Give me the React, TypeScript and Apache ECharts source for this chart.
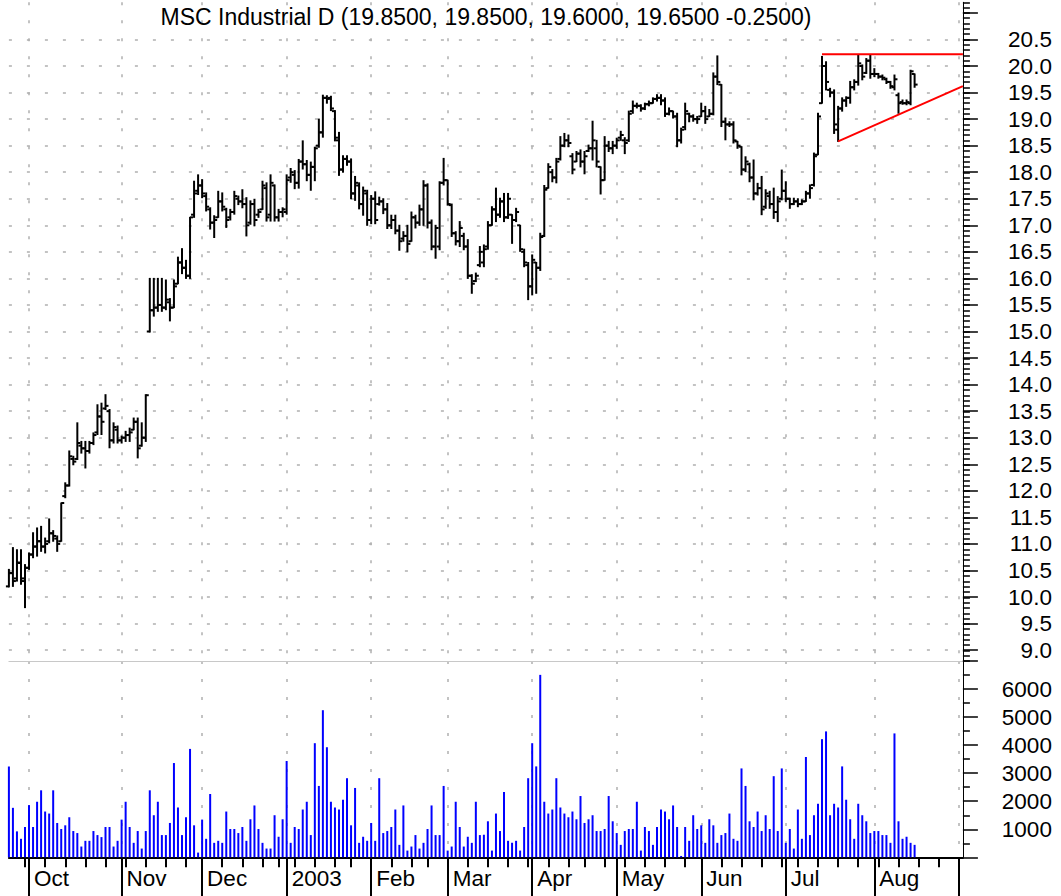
import React, { useEffect, useRef } from "react";
import * as echarts from "echarts";

const TITLE = "MSC Industrial D (19.8500, 19.8500, 19.6000, 19.6500 -0.2500)";
const FONT = "'Liberation Sans', Arial, Helvetica, sans-serif";

// trading calendar (axis runs past the last bar)
const FIRST_DAY = "2002-09-24";
const LAST_AXIS_DAY = "2003-09-03";
const HOLIDAYS = ["2002-11-28", "2002-12-25", "2003-01-01", "2003-01-20", "2003-02-17", "2003-04-18", "2003-05-26", "2003-07-04", "2003-09-01"];
const MONTH_NAMES = ["Jan", "Feb", "Mar", "Apr", "May", "Jun", "Jul", "Aug", "Sep", "Oct", "Nov", "Dec"];

const OPEN = [
  10.20, 10.45, 10.35, 10.64, 10.35, 10.55, 10.80, 10.95, 11.05, 10.95, 11.05, 11.20, 11.10, 11.05, 11.90, 12.10, 12.60, 12.60, 12.85, 12.80,
  12.75, 12.90, 13.10, 13.40, 13.55, 13.50, 12.95, 13.15, 12.95, 13.00, 13.05, 13.15, 13.30, 12.85, 13.00, 15.00, 15.40, 15.45, 15.50, 15.45,
  15.55, 15.45, 15.90, 16.30, 16.20, 16.05, 17.20, 17.65, 17.75, 17.55, 17.30, 17.05, 17.15, 17.45, 17.30, 17.15, 17.25, 17.50, 17.45, 17.40,
  17.05, 17.40, 17.20, 17.30, 17.70, 17.20, 17.75, 17.15, 17.25, 17.25, 17.90, 17.95, 17.80, 18.20, 18.15, 17.95, 18.10, 18.50, 18.75, 19.40,
  19.40, 19.15, 18.60, 18.05, 18.25, 18.20, 17.60, 17.75, 17.40, 17.60, 17.10, 17.50, 17.40, 17.45, 17.30, 17.00, 17.10, 16.90, 16.75, 16.80,
  16.70, 17.15, 17.05, 17.30, 17.75, 17.05, 16.60, 16.60, 17.80, 17.85, 17.38, 16.85, 16.70, 16.80, 16.60, 16.05, 15.95, 16.25, 16.30, 16.60,
  17.00, 17.30, 17.20, 17.45, 17.15, 17.20, 17.10, 17.00, 16.50, 16.25, 15.85, 16.30, 16.20, 16.80, 17.70, 18.00, 17.90, 18.25, 18.50, 18.60,
  18.30, 18.20, 18.35, 18.20, 18.40, 18.45, 18.45, 18.10, 17.85, 18.50, 18.45, 18.50, 18.65, 18.60, 18.60, 19.15, 19.25, 19.25, 19.20, 19.28,
  19.30, 19.38, 19.40, 19.35, 19.10, 19.15, 19.05, 18.60, 18.85, 19.10, 19.05, 19.00, 19.05, 19.15, 19.05, 19.10, 19.80, 19.65, 18.95, 18.90,
  18.90, 18.58, 18.48, 18.05, 18.15, 17.90, 17.60, 17.70, 17.35, 17.55, 17.40, 17.25, 17.50, 17.65, 17.50, 17.40, 17.45, 17.40, 17.45, 17.60,
  17.76, 18.33, 19.30, 20.00, 19.55, 19.50, 18.80, 19.20, 19.35, 19.40, 19.60, 19.70, 20.00, 19.87, 20.10, 19.85, 19.85, 19.80, 19.75, 19.70,
  19.60, 19.45, 19.32, 19.30, 19.30, 19.85,
];
const HIGH = [
  10.52, 10.93, 10.89, 10.89, 10.61, 10.83, 11.21, 11.30, 11.33, 11.11, 11.47, 11.25, 11.15, 11.77, 12.15, 12.75, 12.65, 13.28, 12.93, 12.93,
  12.93, 13.09, 13.62, 13.65, 13.81, 13.53, 13.28, 13.22, 13.03, 13.12, 13.18, 13.37, 13.37, 13.28, 13.81, 16.00, 16.00, 16.00, 16.00, 15.97,
  15.62, 15.97, 16.40, 16.56, 16.34, 17.15, 17.83, 17.95, 17.86, 17.61, 17.33, 17.18, 17.64, 17.61, 17.32, 17.30, 17.64, 17.55, 17.67, 17.52,
  17.46, 17.49, 17.30, 17.83, 17.80, 17.95, 17.76, 17.30, 17.33, 17.95, 18.07, 18.03, 18.24, 18.59, 18.22, 18.19, 18.47, 19.00, 19.45, 19.44,
  19.43, 19.16, 18.75, 18.31, 18.31, 18.25, 17.92, 17.80, 17.72, 17.66, 17.56, 17.63, 17.53, 17.50, 17.41, 17.19, 17.19, 17.00, 16.88, 17.00,
  17.25, 17.19, 17.38, 17.84, 17.78, 17.10, 17.00, 17.82, 18.26, 17.85, 17.40, 16.88, 17.07, 16.85, 16.73, 16.07, 16.10, 16.60, 16.63, 17.07,
  17.35, 17.70, 17.51, 17.60, 17.60, 17.20, 17.32, 17.00, 16.55, 16.30, 16.44, 16.30, 16.85, 17.75, 18.16, 18.05, 18.26, 18.67, 18.73, 18.70,
  18.35, 18.39, 18.42, 18.39, 18.51, 18.96, 18.60, 18.10, 18.67, 18.58, 18.58, 18.64, 18.77, 18.65, 19.15, 19.34, 19.30, 19.27, 19.30, 19.34,
  19.40, 19.46, 19.46, 19.40, 19.21, 19.15, 19.11, 18.83, 19.30, 19.11, 19.08, 19.05, 19.30, 19.24, 19.18, 19.87, 20.19, 19.65, 19.02, 18.95,
  18.95, 18.58, 18.48, 18.29, 18.17, 18.23, 17.79, 17.92, 17.67, 17.64, 17.70, 17.54, 18.04, 17.82, 17.51, 17.51, 17.50, 17.48, 17.64, 17.76,
  18.36, 19.11, 20.18, 20.08, 19.58, 19.55, 19.24, 19.40, 19.42, 19.71, 19.74, 20.21, 20.02, 20.14, 20.21, 19.95, 19.86, 19.83, 19.77, 19.71,
  19.83, 19.49, 19.36, 19.36, 19.92, 19.85,
];
const LOW = [
  10.19, 10.20, 10.30, 10.24, 9.80, 10.52, 10.74, 10.77, 10.86, 10.83, 11.02, 11.05, 10.86, 11.05, 11.87, 12.09, 12.49, 12.59, 12.71, 12.43,
  12.71, 12.87, 13.06, 13.06, 13.53, 12.81, 12.90, 12.90, 12.90, 12.93, 12.93, 13.15, 12.62, 12.84, 12.93, 14.99, 15.29, 15.38, 15.38, 15.41,
  15.20, 15.45, 15.90, 16.09, 16.00, 16.00, 17.15, 17.58, 17.52, 17.27, 16.93, 16.77, 17.15, 17.27, 16.96, 17.10, 17.21, 17.39, 17.33, 16.80,
  17.02, 16.99, 17.15, 17.30, 17.08, 17.08, 17.08, 17.08, 17.16, 17.21, 17.81, 17.69, 17.70, 18.06, 17.84, 17.66, 17.84, 18.47, 18.66, 19.30,
  19.16, 18.59, 17.94, 18.00, 18.13, 17.50, 17.47, 17.31, 17.19, 17.00, 17.03, 17.03, 17.38, 17.22, 16.94, 16.94, 16.84, 16.53, 16.70, 16.50,
  16.70, 16.95, 17.00, 17.00, 16.95, 16.54, 16.38, 16.54, 17.76, 17.38, 16.79, 16.63, 16.60, 16.54, 16.00, 15.72, 15.94, 16.22, 16.22, 16.55,
  17.00, 17.07, 17.15, 17.07, 17.13, 16.66, 17.07, 16.51, 16.22, 15.60, 15.69, 15.72, 16.15, 16.79, 17.70, 17.82, 17.80, 18.23, 18.48, 18.48,
  17.97, 18.20, 18.10, 17.97, 18.39, 18.23, 18.10, 17.59, 17.85, 18.39, 18.35, 18.45, 18.60, 18.35, 18.58, 19.11, 19.21, 19.15, 19.18, 19.25,
  19.30, 19.34, 19.27, 19.05, 19.08, 19.02, 18.48, 18.55, 18.80, 18.95, 18.96, 18.92, 19.05, 18.92, 19.05, 19.08, 19.65, 18.86, 18.61, 18.86,
  18.55, 18.45, 17.95, 18.01, 17.82, 17.48, 17.57, 17.20, 17.32, 17.32, 17.13, 17.07, 17.48, 17.45, 17.32, 17.39, 17.35, 17.39, 17.45, 17.51,
  17.74, 18.33, 19.30, 19.55, 19.42, 18.73, 18.58, 19.15, 19.24, 19.30, 19.55, 19.64, 19.74, 19.86, 19.77, 19.80, 19.77, 19.74, 19.67, 19.58,
  19.55, 19.11, 19.28, 19.27, 19.27, 19.60,
];
const CLOSE = [
  10.45, 10.30, 10.65, 10.30, 10.55, 10.80, 10.95, 11.05, 10.95, 11.00, 11.20, 11.15, 11.00, 11.77, 12.10, 12.65, 12.55, 12.90, 12.80, 12.75,
  12.90, 13.05, 13.40, 13.30, 13.60, 12.95, 13.20, 12.95, 13.00, 13.05, 13.10, 13.30, 12.80, 13.00, 13.80, 15.40, 15.45, 15.50, 15.45, 15.60,
  15.45, 15.85, 16.30, 16.20, 16.05, 17.15, 17.60, 17.75, 17.60, 17.35, 17.05, 17.10, 17.45, 17.35, 17.10, 17.25, 17.55, 17.45, 17.40, 17.00,
  17.40, 17.10, 17.25, 17.75, 17.15, 17.80, 17.15, 17.25, 17.30, 17.85, 18.00, 17.80, 18.20, 18.15, 17.95, 18.10, 18.45, 18.75, 19.40, 19.38,
  19.20, 18.65, 18.05, 18.25, 18.20, 17.60, 17.80, 17.40, 17.65, 17.10, 17.50, 17.10, 17.45, 17.30, 17.00, 17.10, 16.90, 16.70, 16.80, 16.65,
  17.15, 17.05, 17.30, 17.75, 17.05, 16.60, 16.95, 17.80, 17.85, 17.40, 16.85, 16.70, 16.95, 16.60, 16.05, 15.90, 16.05, 16.50, 16.55, 17.00,
  17.30, 17.20, 17.45, 17.15, 17.50, 17.10, 17.25, 16.55, 16.30, 15.85, 16.35, 16.20, 16.78, 17.67, 18.10, 17.90, 18.20, 18.50, 18.60, 18.55,
  18.05, 18.35, 18.20, 18.30, 18.45, 18.60, 18.20, 17.85, 18.50, 18.45, 18.50, 18.60, 18.70, 18.55, 19.10, 19.25, 19.25, 19.20, 19.28, 19.30,
  19.38, 19.40, 19.35, 19.10, 19.15, 19.05, 18.60, 18.80, 19.15, 19.05, 19.00, 19.00, 19.15, 19.00, 19.10, 19.80, 19.70, 18.95, 18.90, 18.90,
  18.60, 18.50, 18.05, 18.20, 17.90, 17.60, 17.70, 17.30, 17.60, 17.40, 17.25, 17.45, 17.65, 17.50, 17.40, 17.45, 17.40, 17.45, 17.60, 17.70,
  18.30, 19.05, 20.00, 19.70, 19.50, 18.90, 19.20, 19.35, 19.40, 19.60, 19.70, 20.05, 19.80, 20.10, 19.85, 19.85, 19.80, 19.78, 19.70, 19.62,
  19.75, 19.30, 19.30, 19.32, 19.90, 19.65,
];
const VOLUME = [
  3243, 1765, 925, 660, 1081, 1862, 1081, 1982, 2390, 1633, 1561, 2390, 1225, 1009, 1141, 1429, 937, 865, 384, 588,
  588, 937, 793, 721, 1081, 1081, 384, 588, 1345, 1982, 1081, 516, 937, 312, 937, 2390, 1501, 1982, 793, 793,
  1225, 3363, 1777, 793, 1429, 3867, 1141, 168, 1345, 660, 2258, 516, 588, 516, 1633, 1009, 1009, 865, 1081, 588,
  1357, 1850, 1009, 516, 312, 312, 1501, 733, 1357, 3435, 516, 1081, 1009, 1705, 1982, 793, 4071, 2546, 5248, 3927,
  1982, 1777, 1705, 2054, 2822, 1141, 2474, 516, 733, 588, 1225, 588, 2822, 865, 937, 1081, 1705, 444, 1850, 240,
  384, 793, 312, 516, 1009, 1850, 793, 793, 2546, 240, 384, 1982, 1081, 384, 733, 516, 1982, 793, 805, 1285,
  240, 1561, 937, 2330, 588, 516, 588, 240, 1081, 2822, 4071, 3243, 6509, 1982, 1561, 1705, 2822, 1777, 1561, 1429,
  1633, 1357, 2186, 1225, 1357, 1501, 937, 937, 1009, 2186, 1285, 865, 444, 937, 1009, 1009, 1982, 240, 1081, 937,
  444, 1081, 1705, 1633, 1357, 1850, 1081, 48, 1081, 588, 1501, 1009, 1141, 516, 1357, 1141, 516, 793, 865, 1561,
  660, 588, 3171, 2546, 1285, 1081, 1633, 937, 1501, 1009, 2894, 937, 3171, 516, 1009, 312, 1705, 660, 3579, 793,
  1501, 1910, 4215, 4492, 1501, 1910, 1777, 3243, 2054, 1357, 660, 1910, 1501, 1285, 865, 937, 937, 793, 793, 516,
  4420, 1285, 660, 733, 516, 444,
];

// red trendlines: [category index, price]
const TREND_TOP = [[202, 20.22], [237, 20.22]];
const TREND_RISE = [[206, 18.58], [237, 19.62]];

function buildDays(): string[] {
  const out: string[] = [];
  const hol = new Set(HOLIDAYS);
  const d = new Date(FIRST_DAY + "T00:00:00Z");
  const end = new Date(LAST_AXIS_DAY + "T00:00:00Z");
  while (d.getTime() <= end.getTime()) {
    const wd = d.getUTCDay();
    const s = d.toISOString().slice(0, 10);
    if (wd !== 0 && wd !== 6 && !hol.has(s)) out.push(s);
    d.setUTCDate(d.getUTCDate() + 1);
  }
  return out;
}

const DAYS = buildDays();
const LAST_BAR = OPEN.length - 1;
const wday = (s: string) => new Date(s + "T00:00:00Z").getUTCDay();
const isMonthStart = (i: number) => i > 0 && DAYS[i].slice(5, 7) !== DAYS[i - 1].slice(5, 7);
const isWeekStart = (i: number) => i > 0 && wday(DAYS[i]) <= wday(DAYS[i - 1]);

const DOT = { type: [3, 15] as any, color: "#b0b0b0", width: 1.5 };

export default function App() {
  const ref = useRef<HTMLDivElement>(null);
  useEffect(() => {
    if (!ref.current) return;
    const chart = echarts.init(ref.current, undefined, { renderer: "svg" });
    const ohlc = OPEN.map((o, i) => [i, o, HIGH[i], LOW[i], CLOSE[i]]);
    const gridBase = { left: 8.9, right: 98.1, outerBoundsMode: "none" } as any;
    const option: any = {
      animation: false,
      backgroundColor: "#ffffff",
      title: {
        text: TITLE,
        left: 486,
        top: 5,
        padding: 0,
        textAlign: "center",
        textStyle: { fontFamily: FONT, fontSize: 23, fontWeight: "normal", color: "#000" },
      },
      grid: [
        { ...gridBase, top: 12.9, height: 637.2 },
        { ...gridBase, top: 661.1, height: 196.2 },
        { ...gridBase, top: 2.3, height: 658.8 },
      ],
      xAxis: [
        { gridIndex: 0, type: "category", data: DAYS, boundaryGap: false, show: false },
        {
          gridIndex: 1, type: "category", data: DAYS, boundaryGap: false, position: "bottom",
          axisLine: { show: true, onZero: false, lineStyle: { color: "#000", width: 2 } },
          axisTick: { show: true, interval: (i: number) => isMonthStart(i), length: 39, lineStyle: { color: "#000", width: 2 } },
          axisLabel: {
            show: true,
            interval: (i: number) => isMonthStart(i) && i <= LAST_BAR,
            formatter: (v: string) => {
              const m = parseInt(v.slice(5, 7), 10) - 1;
              return m === 0 ? v.slice(0, 4) : MONTH_NAMES[m];
            },
            align: "left", padding: [0, 0, 0, 5], margin: 10,
            fontFamily: FONT, fontSize: 22.5, color: "#000",
          },
          splitLine: { show: true, interval: (i: number) => isMonthStart(i), lineStyle: DOT },
        },
        {
          gridIndex: 1, type: "category", data: DAYS, boundaryGap: false, position: "bottom",
          axisLine: { show: false, onZero: false },
          axisTick: { show: true, interval: (i: number) => isWeekStart(i), length: 10, lineStyle: { color: "#000", width: 2 } },
          axisLabel: { show: false }, splitLine: { show: false },
        },
        {
          gridIndex: 1, type: "category", data: DAYS, boundaryGap: false, position: "top",
          axisLine: { show: true, onZero: false, lineStyle: { color: "#c8c8c8", width: 1 } },
          axisTick: { show: false }, axisLabel: { show: false }, splitLine: { show: false },
        },
        {
          gridIndex: 2, type: "category", data: DAYS, boundaryGap: false,
          axisLine: { show: false, onZero: false }, axisTick: { show: false }, axisLabel: { show: false },
          splitLine: { show: true, interval: (i: number) => isMonthStart(i), lineStyle: DOT },
        },
      ],
      yAxis: [
        {
          gridIndex: 0, type: "value", position: "right", min: 9, max: 21, interval: 0.5,
          axisLine: { show: false },
          axisTick: { show: true, length: 15, lineStyle: { color: "#000", width: 1.5 } },
          axisLabel: {
            show: true, formatter: (v: number) => (v <= 20.5 + 1e-6 ? v.toFixed(1) : ""),
            align: "right", margin: 89, fontFamily: FONT, fontSize: 22.5, color: "#000",
          },
          splitLine: { show: true, showMaxLine: false, lineStyle: DOT },
        },
        {
          gridIndex: 1, type: "value", position: "right", min: 0, max: 7000, interval: 1000,
          axisLine: { show: true, onZero: false, lineStyle: { color: "#000", width: 1 } },
          axisTick: { show: true, length: 15, lineStyle: { color: "#000", width: 1.5 } },
          minorTick: { show: true, splitNumber: 2, length: 7, lineStyle: { color: "#000", width: 1.5 } },
          axisLabel: {
            show: true, formatter: (v: number) => (v > 0 && v < 7000 ? String(v) : ""),
            align: "right", margin: 89, padding: [6, 0, 0, 0], fontFamily: FONT, fontSize: 22.5, color: "#000",
          },
          splitLine: { show: false },
        },
        {
          gridIndex: 2, type: "value", position: "right", min: 8.8, max: 21.2, interval: 0.1,
          axisLine: { show: true, onZero: false, lineStyle: { color: "#000", width: 1 } },
          axisTick: { show: true, length: 7, lineStyle: { color: "#000", width: 1.5 } },
          axisLabel: { show: false }, splitLine: { show: false },
        },
      ],
      series: [
        {
          type: "custom", name: "price", xAxisIndex: 0, yAxisIndex: 0, data: ohlc,
          encode: { x: 0, y: [1, 2, 3, 4] }, clip: false,
          renderItem: (params: any, api: any) => {
            const x = api.value(0);
            const pO = api.coord([x, api.value(1)]);
            const pH = api.coord([x, api.value(2)]);
            const pL = api.coord([x, api.value(3)]);
            const pC = api.coord([x, api.value(4)]);
            const st = { stroke: "#000", lineWidth: 2 };
            return {
              type: "group",
              children: [
                { type: "line", shape: { x1: pH[0], y1: pH[1] - 0.5, x2: pL[0], y2: pL[1] + 0.5 }, style: st },
                { type: "line", shape: { x1: pO[0] - 3, y1: pO[1], x2: pO[0], y2: pO[1] }, style: st },
                { type: "line", shape: { x1: pC[0], y1: pC[1], x2: pC[0] + 3, y2: pC[1] }, style: st },
              ],
            };
          },
        },
        {
          type: "bar", name: "volume", xAxisIndex: 1, yAxisIndex: 1, data: VOLUME,
          barWidth: 2, clip: false, itemStyle: { color: "#0000ff" },
        },
        {
          type: "line", xAxisIndex: 0, yAxisIndex: 0, data: TREND_TOP, symbol: "none",
          lineStyle: { color: "#ff0000", width: 2 }, silent: true,
        },
        {
          type: "line", xAxisIndex: 0, yAxisIndex: 0, data: TREND_RISE, symbol: "none",
          lineStyle: { color: "#ff0000", width: 2 }, silent: true,
        },
      ],
    };
    chart.setOption(option);
    return () => chart.dispose();
  }, []);
  return (
    <div
      ref={ref}
      style={{ position: "fixed", left: 0, top: 0, width: 1061, height: 896, background: "#fff" }}
    />
  );
}
